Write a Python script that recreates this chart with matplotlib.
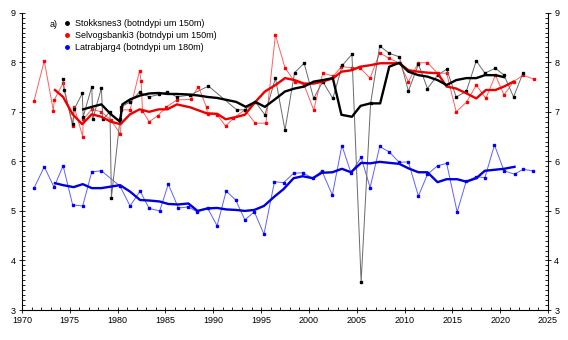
import matplotlib
matplotlib.use("Agg")
import matplotlib.pyplot as plt
from matplotlib.lines import Line2D
from matplotlib.ticker import MultipleLocator

# Stokksnes3 (svart) - einstakar mælingar
ar_stokk = [1974.3, 1974.4, 1975.3, 1975.45, 1976.3, 1976.4, 1977.3, 1977.4, 1978.3, 1978.45,
            1979.2, 1979.35, 1980.25, 1980.4, 1981.3, 1982.3, 1983.3, 1984.3, 1985.2, 1986.2,
            1987.6, 1989.5, 1992.45, 1993.3, 1994.4, 1995.4, 1996.5, 1997.5, 1998.5, 1999.5,
            2000.5, 2001.45, 2002.5, 2003.5, 2004.5, 2005.46, 2006.45, 2007.4, 2008.4, 2009.45,
            2010.4, 2011.45, 2012.4, 2013.45, 2014.4, 2015.4, 2016.45, 2017.5, 2018.4, 2019.5,
            2020.4, 2021.4, 2022.4]
hiti_stokk = [7.66, 7.45, 6.75, 7.05, 7.37, 6.9, 7.51, 6.85, 7.48, 6.85,
              7.0, 5.27, 6.85, 7.1, 7.2, 7.4, 7.3, 7.35, 7.4, 7.3,
              7.34, 7.52, 7.04, 7.04, 7.2, 6.94, 7.68, 6.63, 7.79, 7.98,
              7.27, 7.61, 7.27, 7.94, 8.16, 3.57, 7.17, 8.33, 8.18, 8.11,
              7.42, 7.96, 7.47, 7.74, 7.86, 7.3, 7.41, 8.03, 7.78, 7.88,
              7.74, 7.3, 7.79]

# Stokksnes3 - jafnaður ferill
ar_stokk_m = [1976.4, 1977.3, 1978.3, 1979.3, 1980.25, 1980.5, 1981.3, 1982.35, 1983.3, 1984.3,
              1985.2, 1986.2, 1987.4, 1988.4, 1989.4, 1990.4, 1991.4, 1992.4, 1993.4, 1994.4,
              1995.4, 1996.5, 1997.5, 1998.5, 1999.5, 2000.5, 2001.45, 2002.5, 2003.4, 2004.5,
              2005.4, 2006.4, 2007.45, 2008.4, 2009.45, 2010.4, 2011.45, 2012.4, 2013.45, 2014.4,
              2015.4, 2016.45, 2017.5, 2018.4, 2019.5, 2020.4]
hiti_stokk_m = [7.05, 7.1, 7.15, 6.95, 6.8, 7.15, 7.25, 7.33, 7.37, 7.38,
                7.36, 7.36, 7.35, 7.33, 7.3, 7.28, 7.24, 7.2, 7.1, 7.2,
                7.1, 7.26, 7.41, 7.47, 7.51, 7.61, 7.64, 7.68, 6.94, 6.9,
                7.12, 7.17, 7.17, 7.91, 7.99, 7.81, 7.74, 7.71, 7.64, 7.54,
                7.64, 7.68, 7.68, 7.74, 7.74, 7.7]

# Selvogsbanki3 (rautt)
ar_selv = [1971.26, 1972.33, 1973.28, 1973.38, 1974.3, 1975.3, 1975.47, 1976.35, 1976.4, 1977.3,
           1978.3, 1979.3, 1980.3, 1980.4, 1981.3, 1982.3, 1982.45, 1982.6, 1983.3, 1984.2,
           1985.1, 1986.2, 1987.65, 1988.44, 1989.3, 1989.4, 1990.4, 1991.3, 1992.1, 1993.3,
           1994.4, 1995.5, 1996.5, 1997.5, 1998.5, 1999.5, 2000.5, 2001.45, 2002.55, 2003.4,
           2004.5, 2005.36, 2006.4, 2007.4, 2008.4, 2009.5, 2010.4, 2011.45, 2012.4, 2013.45,
           2014.4, 2015.4, 2016.5, 2017.5, 2018.5, 2019.5, 2020.4, 2021.4, 2022.4, 2023.5]
hiti_selv = [7.22, 8.03, 7.02, 7.24, 7.58, 6.71, 7.09, 6.5, 6.85, 7.05,
             7.0, 6.83, 6.55, 7.04, 7.04, 7.83, 7.63, 7.02, 6.8, 6.92,
             7.1, 7.24, 7.25, 7.51, 7.09, 6.95, 6.94, 6.71, 6.87, 7.04,
             6.77, 6.77, 8.55, 7.89, 7.61, 7.54, 7.04, 7.78, 7.72, 7.91,
             7.89, 7.88, 7.68, 8.19, 8.08, 7.98, 7.61, 7.99, 7.99, 7.78,
             7.78, 7.0, 7.2, 7.54, 7.27, 7.74, 7.34, 7.61, 7.74, 7.66]

ar_selv_m = [1973.45, 1974.3, 1975.3, 1976.3, 1977.3, 1978.3, 1979.3, 1980.3, 1981.3, 1982.3,
             1983.3, 1984.3, 1985.2, 1986.2, 1987.6, 1989.3, 1990.4, 1991.3, 1992.3, 1993.3,
             1994.4, 1995.4, 1996.5, 1997.5, 1998.5, 1999.5, 2000.5, 2001.45, 2002.55, 2003.4,
             2004.5, 2005.36, 2006.4, 2007.45, 2008.4, 2009.45, 2010.4, 2011.45, 2012.4, 2013.45,
             2014.4, 2015.4, 2016.5, 2017.5, 2018.5, 2019.5, 2020.4, 2021.4]
hiti_selv_m = [7.44, 7.3, 6.95, 6.75, 6.95, 6.9, 6.8, 6.75, 6.95, 7.05,
               7.0, 7.05, 7.05, 7.15, 7.09, 6.97, 6.96, 6.85, 6.89, 6.94,
               7.2, 7.41, 7.54, 7.68, 7.64, 7.57, 7.57, 7.61, 7.68, 7.81,
               7.84, 7.91, 7.94, 7.98, 7.98, 7.98, 7.84, 7.81, 7.79, 7.78,
               7.51, 7.47, 7.37, 7.27, 7.44, 7.44, 7.51, 7.61]

# Latrabjarg4 (blátt)
ar_latr = [1971.26, 1972.33, 1973.35, 1974.3, 1975.3, 1976.35, 1977.3, 1978.3, 1980.25, 1981.3,
           1982.35, 1983.3, 1984.4, 1985.3, 1986.35, 1987.4, 1988.35, 1989.4, 1990.4, 1991.35,
           1992.35, 1993.3, 1994.3, 1995.3, 1996.4, 1997.35, 1998.4, 1999.35, 2000.4, 2001.35,
           2002.45, 2003.45, 2004.4, 2005.46, 2006.4, 2007.4, 2008.4, 2009.45, 2010.4, 2011.45,
           2012.4, 2013.45, 2014.4, 2015.5, 2016.45, 2017.5, 2018.4, 2019.4, 2020.4, 2021.5,
           2022.4, 2023.4]
hiti_latr = [5.46, 5.89, 5.48, 5.91, 5.12, 5.1, 5.79, 5.81, 5.5, 5.1,
             5.4, 5.05, 5.0, 5.54, 5.06, 5.08, 4.98, 5.06, 4.7, 5.4,
             5.22, 4.82, 4.98, 4.53, 5.59, 5.57, 5.76, 5.77, 5.66, 5.81,
             5.32, 6.32, 5.77, 6.08, 5.47, 6.3, 6.19, 5.98, 5.99, 5.3,
             5.74, 5.91, 5.96, 4.98, 5.6, 5.69, 5.67, 6.33, 5.81, 5.74,
             5.84, 5.81]

ar_latr_m = [1973.45, 1974.3, 1975.4, 1976.35, 1977.3, 1978.3, 1980.25, 1981.3, 1982.35, 1983.3,
             1984.4, 1985.3, 1986.35, 1987.4, 1988.35, 1989.4, 1990.4, 1991.35, 1992.35, 1993.3,
             1994.3, 1995.3, 1996.4, 1997.35, 1998.4, 1999.35, 2000.4, 2001.35, 2002.45, 2003.45,
             2004.4, 2005.46, 2006.4, 2007.4, 2008.4, 2009.45, 2010.4, 2011.45, 2012.4, 2013.45,
             2014.4, 2015.5, 2016.45, 2017.5, 2018.4, 2019.4, 2020.4, 2021.5]
hiti_latr_m = [5.56, 5.52, 5.48, 5.54, 5.46, 5.46, 5.52, 5.39, 5.22, 5.21,
               5.19, 5.14, 5.13, 5.15, 5.0, 5.05, 5.06, 5.03, 5.02, 5.0,
               5.02, 5.1, 5.29, 5.44, 5.66, 5.7, 5.66, 5.77, 5.78, 5.85,
               5.78, 5.97, 5.96, 5.99, 5.97, 5.95, 5.86, 5.78, 5.78, 5.58,
               5.64, 5.64, 5.59, 5.66, 5.81, 5.83, 5.85, 5.89]

heiti = ["Stokksnes3 (botndypi um 150m)",
         "Selvogsbanki3 (botndypi um 150m)",
         "Latrabjarg4 (botndypi um 180m)"]

plt.rcParams['font.family'] = ['Liberation Sans', 'DejaVu Sans']

fig = plt.figure(figsize=(5.68, 3.40), dpi=100)
ax = fig.add_axes([0.0387, 0.0882, 0.9261, 0.8744])

# þunnar línur með punktum
ax.plot(ar_selv, hiti_selv, color='#ff6060', lw=0.7, marker='s', ms=1.6,
        mfc='red', mec='red', zorder=2)
ax.plot(ar_stokk, hiti_stokk, color='#6a6a6a', lw=0.7, marker='s', ms=1.6,
        mfc='black', mec='black', zorder=3)
ax.plot(ar_latr, hiti_latr, color='#6060ff', lw=0.7, marker='s', ms=1.6,
        mfc='blue', mec='blue', zorder=2)

# jafnaðir ferlar
ax.plot(ar_selv_m, hiti_selv_m, color='#ee0000', lw=1.7, zorder=4)
ax.plot(ar_stokk_m, hiti_stokk_m, color='black', lw=1.7, zorder=5)
ax.plot(ar_latr_m, hiti_latr_m, color='#0000e0', lw=1.7, zorder=4)

ax.set_xlim(1970, 2025)
ax.set_ylim(3, 9)
ax.xaxis.set_major_locator(MultipleLocator(5))
ax.xaxis.set_minor_locator(MultipleLocator(1))
ax.yaxis.set_major_locator(MultipleLocator(1))
ax.yaxis.set_minor_locator(MultipleLocator(0.1))
ax.spines['top'].set_visible(False)
for s in ['left', 'right', 'bottom']:
    ax.spines[s].set_linewidth(0.8)
ax.tick_params(which='both', left=True, right=True, labelright=True,
               labelsize=6.5, width=0.6, pad=2)
ax.tick_params(which='major', direction='inout', length=5)
ax.tick_params(which='minor', direction='in', length=2.5)

ax.text(0.053, 0.962, 'a)', transform=ax.transAxes, fontsize=6.5,
        va='center', ha='left')

handles = [Line2D([], [], ls='none', marker='o', ms=2.5, color=c)
           for c in ['black', 'red', 'blue']]
ax.legend(handles, heiti, loc='upper left', bbox_to_anchor=(0.078, 0.978),
          frameon=False, fontsize=6.5, handlelength=0.8, handletextpad=0.5,
          labelspacing=0.32, borderaxespad=0, borderpad=0)

fig.savefig('out.png', dpi=100)
